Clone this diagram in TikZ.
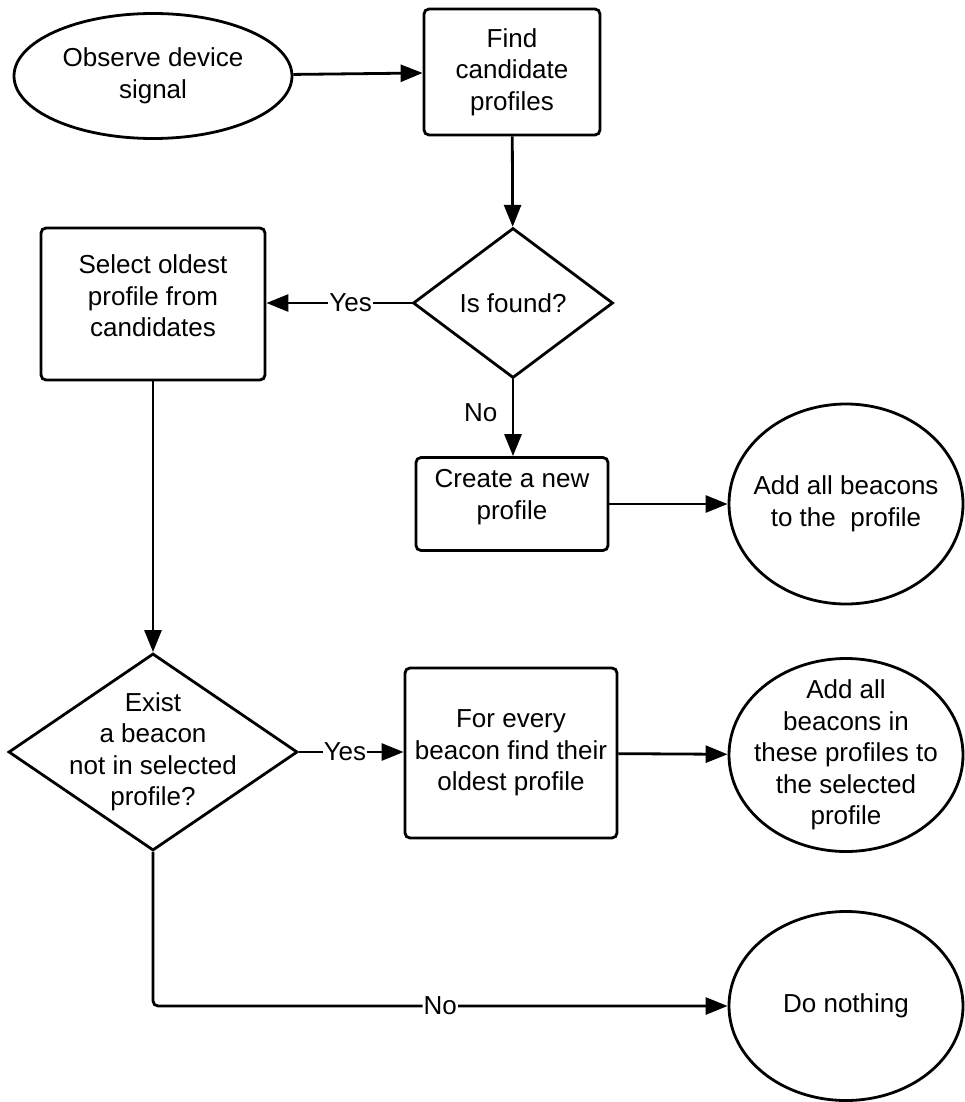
\documentclass[tikz,border=0pt]{standalone}
\usepackage{fontspec}
\setmainfont{Liberation Sans}
\usepackage{tikz}
\usetikzlibrary{positioning,arrows.meta,shapes.geometric}
\newcommand{\boxfont}{\fontsize{26}{31.5}\selectfont}

\begin{document}
\begin{tikzpicture}[x=1pt,y=-1pt,font=\boxfont,
  proc/.style={draw,line width=2.8pt,rounded corners=5pt,align=center,inner sep=0pt},
  term/.style={draw,ellipse,line width=2.8pt,align=center,inner sep=-20pt},
  decide/.style={draw,diamond,line width=2.8pt,align=center,inner sep=-15pt,aspect=1.45},
  flow/.style={line width=2.8pt,-{Triangle[length=22pt,width=17pt]}},
  answer/.style={fill=white,inner sep=1pt}]
  \useasboundingbox (0,0) rectangle (965,1102);
  %% top: signal in, candidates, first test
  \node[term,minimum width=278pt,minimum height=125pt] (observe) at (153,76) {Observe device\\signal};
  \node[proc,minimum width=176pt,minimum height=126pt] (find) at (512,72) {Find\\candidate\\profiles};
  \node[decide,minimum width=200pt,minimum height=150pt] (isfound) at (513,303) {Is found?};
  \node[proc,minimum width=224pt,minimum height=152pt,text depth=16pt] (select) at (153,304) {Select oldest\\profile from\\candidates};
  %% no candidate: new profile
  \node[proc,minimum width=192pt,minimum height=93pt,text depth=19pt] (create) at (512,504) {Create a new\\profile};
  \node[term,minimum width=234pt,minimum height=200pt] (addall) at (846,504) {Add all beacons\\to the\ \ profile};
  %% merging
  \node[decide,minimum width=289pt,minimum height=197pt] (exist) at (153,752) {Exist\\a beacon\\not in selected\\profile?};
  \node[proc,minimum width=212pt,minimum height=170pt] (every) at (511,753) {For every\\beacon find their\\oldest profile};
  \node[term,minimum width=234pt,minimum height=193pt] (merge) at (846,755) {Add all\\beacons in\\these profiles to\\the selected\\profile};
  \node[term,minimum width=234pt,minimum height=189pt] (nothing) at (846,1006) {Do nothing};
  %% connectors
  \draw[flow] (observe) -- (find);
  \draw[flow] (find) -- (isfound);
  \draw[flow] (isfound.west) -- node[answer,pos=.42] {Yes} (select.east |- isfound.west);
  \draw[flow] (isfound.south) -- node[pos=.43,left=11pt] {No} (create.north -| isfound.south);
  \draw[flow] (create) -- (addall);
  \draw[flow] (select) -- (exist);
  \draw[flow] (exist.east) -- node[answer,pos=.44] {Yes} (every.west |- exist.east);
  \draw[flow] (every) -- (merge);
  \draw[flow,rounded corners=5pt] (exist.south) |- node[answer,pos=.75] {No} (nothing.west);
\end{tikzpicture}
\end{document}
